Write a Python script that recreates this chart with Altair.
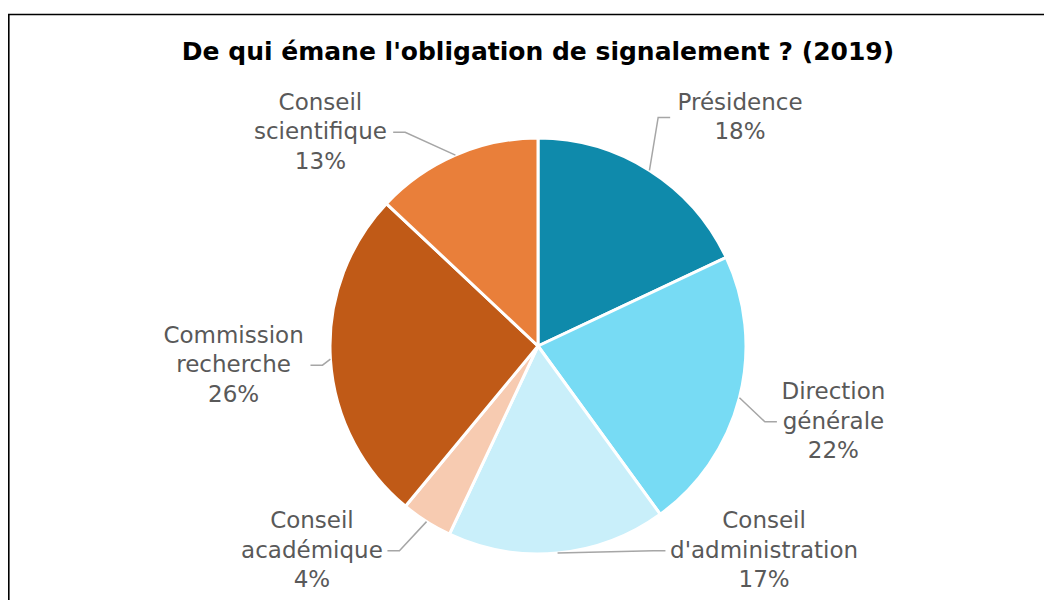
import math
import numpy as np
import pandas as pd
import altair as alt

# ---- data ----
categories = ["Présidence", "Direction générale", "Conseil d'administration",
              "Conseil académique", "Commission recherche", "Conseil scientifique"]
values = [18, 22, 17, 4, 26, 13]
colors = ["#0F8AAB", "#77DBF4", "#C9EFFA", "#F7CBB1", "#C05A17", "#E97F3A"]
title_text = "De qui émane l'obligation de signalement ? (2019)"

# ---- layout constants ----
W, H = 1036, 592
CX, CY = 530, 338          # pie centre (chart px)
R_PIE = 208
R_LAB = 305
FS, LH = 23, 29.5
TOP, BOT = -258, 249       # label block limits relative to centre (y down)


def text_width(s, fs):
    w = 0.0
    for ch in s:
        if ch in "il'|.,;:!":
            w += 0.28
        elif ch in "tfrj":
            w += 0.39
        elif ch == "m":
            w += 0.97
        elif ch == "%":
            w += 0.95
        elif ch.isupper():
            w += 0.70
        else:
            w += 0.61
    return w * fs


total = float(sum(values))
cum = np.cumsum(values)
rows, lead = [], []
for i, (c, v) in enumerate(zip(categories, values)):
    a = 2 * math.pi * (cum[i] - v / 2) / total
    lines = (c + " " + f"{v}%").split(" ")
    n = len(lines)
    h = n * LH / 2
    s = 1 if math.sin(a) >= 0 else -1
    y = -R_LAB * math.cos(a)
    y = min(max(y, TOP + h), BOT - h)
    x = s * math.sqrt(max(R_LAB ** 2 - y ** 2, 0))
    hw = max(text_width(t, FS) for t in lines) / 2
    # first line's anchor so that the whole block is centred on y
    y_first = y - (n - 1) * LH / 2
    rows.append({"category": c, "lines": lines, "lx": x, "ly": -y_first})
    px, py = R_PIE * math.sin(a), -R_PIE * math.cos(a)
    ex = x - s * (hw + 5)
    pts = [(px, py), (ex - s * 12, y), (ex, y)]
    for k, (qx, qy) in enumerate(pts):
        lead.append({"category": c, "k": k, "x": qx, "y": -qy})

df = pd.DataFrame({"category": categories, "value": values, "idx": list(range(len(values)))})
lab = pd.DataFrame(rows)
ld = pd.DataFrame(lead)

xs = alt.Scale(domain=[-CX, W - CX], nice=False, zero=False)
ys = alt.Scale(domain=[-(H - CY), CY], nice=False, zero=False)

pie = alt.Chart(df).mark_arc(radius=R_PIE, stroke="white", strokeWidth=3).encode(
    theta=alt.Theta("value:Q", stack=True),
    color=alt.Color("category:N", scale=alt.Scale(domain=categories, range=colors), legend=None),
    order=alt.Order("idx:Q", sort="ascending"),
    x=alt.value(CX),
    y=alt.value(CY),
)

leaders = alt.Chart(ld).mark_line(color="#A6A6A6", strokeWidth=1.5).encode(
    x=alt.X("x:Q", scale=xs, axis=None),
    y=alt.Y("y:Q", scale=ys, axis=None),
    detail="category:N",
    order="k:Q",
)

labels = alt.Chart(lab).mark_text(
    align="center", baseline="middle", fontSize=FS, lineHeight=LH,
    font="DejaVu Sans", color="#595959",
).encode(
    x=alt.X("lx:Q", scale=xs, axis=None),
    y=alt.Y("ly:Q", scale=ys, axis=None),
    text=alt.Text("lines:N"),
)

one = pd.DataFrame({"a": [0]})
title = alt.Chart(one).mark_text(
    text=title_text, fontSize=25, fontWeight="bold", font="DejaVu Sans",
    color="#000000", align="center", baseline="alphabetic",
).encode(x=alt.value(CX), y=alt.value(52))

frame_left = alt.Chart(one).mark_rule(color="#000000", strokeWidth=1.6).encode(
    x=alt.value(0.8), y=alt.value(6.5), y2=alt.value(H))
frame_top = alt.Chart(one).mark_rule(color="#000000", strokeWidth=1.6).encode(
    x=alt.value(0), x2=alt.value(W), y=alt.value(6.5))

chart = alt.layer(pie, leaders, labels, title, frame_left, frame_top).properties(
    width=W, height=H,
    autosize=alt.AutoSizeParams(type="none"),
    padding=0,
).configure_view(stroke=None)

chart.save("out.html", embed_options={"renderer": "svg", "actions": False})
